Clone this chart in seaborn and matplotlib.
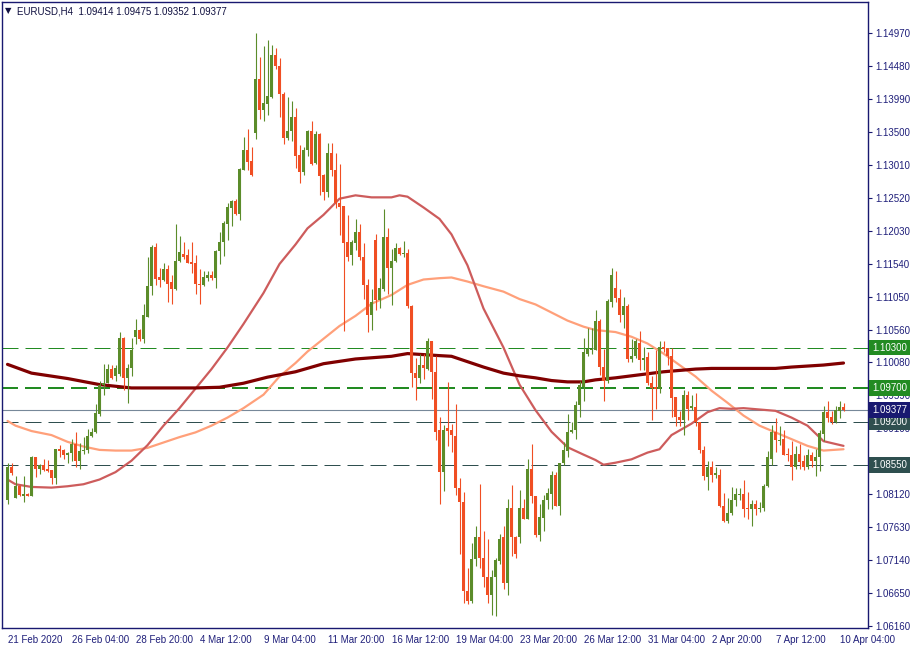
import matplotlib
matplotlib.use("Agg")
import matplotlib.pyplot as plt
import matplotlib.transforms as mtransforms
import numpy as np
import pandas as pd
import seaborn as sns

sns.set_style("white")
plt.rcParams["font.family"] = ["Liberation Sans", "DejaVu Sans"]

# EURUSD H4 candles (oldest first)
opens = [1.0804, 1.0853, 1.0807, 1.0824, 1.0810, 1.0813, 1.0810, 1.0867, 1.0849, 1.0856,
         1.0849, 1.0848, 1.0837, 1.0879, 1.0878, 1.0870, 1.0873, 1.0887, 1.0862, 1.0876,
         1.0878, 1.0898, 1.0904, 1.0932, 1.0974, 1.0978, 1.0998, 1.0987, 1.0991, 1.1044,
         1.0985, 1.0999, 1.1046, 1.1056, 1.1042, 1.1076, 1.1121, 1.1180, 1.1134, 1.1131,
         1.1146, 1.1127, 1.1117, 1.1159, 1.1169, 1.1167, 1.1157, 1.1156, 1.1125, 1.1123,
         1.1133, 1.1137, 1.1133, 1.1174, 1.1186, 1.1214, 1.1237, 1.1247, 1.1228, 1.1293,
         1.1324, 1.1307, 1.1348, 1.1428, 1.1383, 1.1392, 1.1402, 1.1464, 1.1448, 1.1407,
         1.1341, 1.1351, 1.1373, 1.1316, 1.1291, 1.1323, 1.1351, 1.1304, 1.1347, 1.1286,
         1.1261, 1.1319, 1.1294, 1.1245, 1.1240, 1.1186, 1.1167, 1.1185, 1.1202, 1.1165,
         1.1123, 1.1079, 1.1190, 1.1101, 1.1117, 1.1194, 1.1148, 1.1159, 1.1178, 1.1169,
         1.1171, 1.1091, 1.0992, 1.0985, 1.1004, 1.0998, 1.1039, 1.0994, 1.0908, 1.0845,
         1.0911, 1.0908, 1.0899, 1.0821, 1.0801, 1.0668, 1.0654, 1.0716, 1.0749, 1.0718,
         1.0690, 1.0663, 1.0690, 1.0713, 1.0748, 1.0681, 1.0791, 1.0748, 1.0748, 1.0791,
         1.0776, 1.0850, 1.0809, 1.0752, 1.0777, 1.0804, 1.0813, 1.0840, 1.0795, 1.0858,
         1.0877, 1.0904, 1.0907, 1.0944, 1.0972, 1.1021, 1.1027, 1.1027, 1.1070, 1.1001,
         1.0980, 1.1098, 1.1118, 1.1104, 1.1079, 1.1091, 1.1013, 1.1017, 1.1037, 1.1011,
         1.1016, 1.0977, 1.0971, 1.0968, 1.1031, 1.1029, 1.1017, 1.0956, 1.0927, 1.0922,
         1.0959, 1.0940, 1.0941, 1.0919, 1.0878, 1.0838, 1.0853, 1.0840, 1.0841, 1.0795,
         1.0773, 1.0784, 1.0804, 1.0811, 1.0813, 1.0791, 1.0790, 1.0798, 1.0790, 1.0791,
         1.0824, 1.0865, 1.0904, 1.0891, 1.0894, 1.0872, 1.0871, 1.0852, 1.0872, 1.0862,
         1.0852, 1.0871, 1.0862, 1.0867, 1.0902, 1.0935, 1.0927, 1.0919, 1.0936, 1.09414]
highs = [1.0859, 1.0858, 1.0839, 1.0826, 1.0839, 1.0814, 1.0869, 1.0868, 1.0857, 1.0865,
         1.0863, 1.0848, 1.0880, 1.0885, 1.0879, 1.0875, 1.0894, 1.0905, 1.0888, 1.0897,
         1.0909, 1.0911, 1.0946, 1.0981, 1.1006, 1.1006, 1.1004, 1.1004, 1.1053, 1.1045,
         1.1006, 1.1044, 1.1072, 1.1057, 1.1094, 1.1165, 1.1182, 1.1185, 1.1148, 1.1156,
         1.1152, 1.1137, 1.1214, 1.1195, 1.1186, 1.1176, 1.1187, 1.1167, 1.1146, 1.1143,
         1.1143, 1.1143, 1.1175, 1.1201, 1.1218, 1.1245, 1.1249, 1.1250, 1.1296, 1.1343,
         1.1355, 1.1328, 1.1497, 1.1462, 1.1477, 1.1487, 1.1479, 1.1475, 1.1460, 1.1409,
         1.1402, 1.1396, 1.1386, 1.1331, 1.1328, 1.1353, 1.1367, 1.1351, 1.1348, 1.1288,
         1.1334, 1.1333, 1.1319, 1.1302, 1.1240, 1.1227, 1.1189, 1.1221, 1.1214, 1.1185,
         1.1132, 1.1117, 1.1198, 1.1133, 1.1236, 1.1208, 1.1177, 1.1185, 1.1179, 1.1188,
         1.1176, 1.1093, 1.1014, 1.1020, 1.1020, 1.1044, 1.1040, 1.1018, 1.0927, 1.0915,
         1.0979, 1.0917, 1.0946, 1.0836, 1.0816, 1.0703, 1.0740, 1.0765, 1.0828, 1.0757,
         1.0746, 1.0699, 1.0718, 1.0753, 1.0765, 1.0805, 1.0826, 1.0750, 1.0819, 1.0805,
         1.0864, 1.0887, 1.0810, 1.0797, 1.0811, 1.0821, 1.0846, 1.0845, 1.0859, 1.0890,
         1.0932, 1.0920, 1.0950, 1.0981, 1.1044, 1.1059, 1.1059, 1.1086, 1.1073, 1.1028,
         1.1102, 1.1148, 1.1144, 1.1117, 1.1105, 1.1095, 1.1043, 1.1043, 1.1054, 1.1031,
         1.1024, 1.0988, 1.1027, 1.1039, 1.1039, 1.1030, 1.1030, 1.0957, 1.0936, 1.0967,
         1.0966, 1.0959, 1.0962, 1.0920, 1.0884, 1.0862, 1.0861, 1.0853, 1.0849, 1.0814,
         1.0806, 1.0823, 1.0821, 1.0821, 1.0833, 1.0816, 1.0804, 1.0803, 1.0800, 1.0827,
         1.0877, 1.0915, 1.0925, 1.0914, 1.0908, 1.0881, 1.0891, 1.0884, 1.0887, 1.0870,
         1.0879, 1.0875, 1.0880, 1.0908, 1.0943, 1.0951, 1.0936, 1.0943, 1.0951, 1.09475]
lows = [1.0797, 1.0841, 1.0807, 1.0810, 1.0801, 1.0809, 1.0809, 1.0838, 1.0842, 1.0846,
        1.0845, 1.0827, 1.0828, 1.0868, 1.0864, 1.0859, 1.0862, 1.0852, 1.0850, 1.0872,
        1.0874, 1.0897, 1.0903, 1.0929, 1.0960, 1.0977, 1.0984, 1.0981, 1.0988, 1.0967,
        1.0948, 1.0988, 1.1035, 1.1040, 1.1037, 1.1075, 1.1108, 1.1123, 1.1120, 1.1129,
        1.1098, 1.1095, 1.1115, 1.1157, 1.1161, 1.1155, 1.1140, 1.1109, 1.1094, 1.1122,
        1.1129, 1.1131, 1.1118, 1.1154, 1.1166, 1.1190, 1.1211, 1.1227, 1.1219, 1.1293,
        1.1293, 1.1285, 1.1340, 1.1370, 1.1366, 1.1376, 1.1400, 1.1444, 1.1373, 1.1332,
        1.1338, 1.1337, 1.1296, 1.1274, 1.1286, 1.1315, 1.1301, 1.1303, 1.1256, 1.1249,
        1.1254, 1.1285, 1.1237, 1.1197, 1.1054, 1.1158, 1.1152, 1.1175, 1.1160, 1.1102,
        1.1053, 1.1056, 1.1085, 1.1088, 1.1114, 1.1110, 1.1093, 1.1157, 1.1168, 1.1164,
        1.1089, 1.0971, 1.0952, 1.0978, 1.0984, 1.0996, 1.0953, 1.0892, 1.0798, 1.0817,
        1.0884, 1.0875, 1.0811, 1.0723, 1.0651, 1.0649, 1.0650, 1.0706, 1.0703, 1.0674,
        1.0650, 1.0633, 1.0632, 1.0709, 1.0671, 1.0663, 1.0720, 1.0717, 1.0740, 1.0775,
        1.0775, 1.0799, 1.0749, 1.0742, 1.0758, 1.0790, 1.0790, 1.0794, 1.0782, 1.0856,
        1.0868, 1.0903, 1.0894, 1.0927, 1.0950, 1.1017, 1.1021, 1.1027, 1.0989, 1.0951,
        1.0978, 1.1090, 1.1098, 1.1068, 1.1059, 1.1009, 1.1009, 1.1014, 1.0997, 1.0997,
        1.0975, 1.0923, 1.0939, 1.0963, 1.1024, 1.1004, 1.0927, 1.0913, 1.0914, 1.0900,
        1.0922, 1.0937, 1.0914, 1.0874, 1.0834, 1.0819, 1.0831, 1.0836, 1.0793, 1.0771,
        1.0769, 1.0782, 1.0795, 1.0803, 1.0778, 1.0775, 1.0765, 1.0781, 1.0786, 1.0787,
        1.0823, 1.0855, 1.0875, 1.0885, 1.0870, 1.0862, 1.0833, 1.0850, 1.0850, 1.0848,
        1.0849, 1.0852, 1.0839, 1.0846, 1.0891, 1.0919, 1.0917, 1.0918, 1.0925, 1.09352]
closes = [1.0853, 1.0843, 1.0824, 1.0811, 1.0813, 1.0810, 1.0868, 1.0849, 1.0856, 1.0848,
          1.0846, 1.0837, 1.0879, 1.0877, 1.0870, 1.0874, 1.0887, 1.0862, 1.0877, 1.0878,
          1.0898, 1.0905, 1.0933, 1.0975, 1.0978, 1.0998, 1.0985, 1.0999, 1.1044, 1.0985,
          1.1000, 1.1026, 1.1056, 1.1042, 1.1078, 1.1121, 1.1180, 1.1132, 1.1131, 1.1146,
          1.1125, 1.1117, 1.1159, 1.1172, 1.1165, 1.1156, 1.1154, 1.1124, 1.1123, 1.1134,
          1.1137, 1.1133, 1.1174, 1.1187, 1.1215, 1.1238, 1.1247, 1.1228, 1.1295, 1.1324,
          1.1305, 1.1286, 1.1428, 1.1383, 1.1393, 1.1403, 1.1464, 1.1448, 1.1406, 1.1341,
          1.1352, 1.1373, 1.1315, 1.1290, 1.1323, 1.1352, 1.1303, 1.1347, 1.1285, 1.1261,
          1.1319, 1.1293, 1.1245, 1.1238, 1.1185, 1.1165, 1.1187, 1.1202, 1.1165, 1.1123,
          1.1079, 1.1098, 1.1101, 1.1118, 1.1194, 1.1148, 1.1159, 1.1178, 1.1169, 1.1171,
          1.1091, 1.0992, 1.0985, 1.1004, 1.0999, 1.1039, 1.0994, 1.0905, 1.0845, 1.0908,
          1.0906, 1.0900, 1.0821, 1.0801, 1.0668, 1.0654, 1.0716, 1.0749, 1.0717, 1.0690,
          1.0663, 1.0690, 1.0714, 1.0746, 1.0681, 1.0791, 1.0748, 1.0724, 1.0791, 1.0776,
          1.0850, 1.0809, 1.0752, 1.0778, 1.0804, 1.0814, 1.0840, 1.0795, 1.0858, 1.0878,
          1.0905, 1.0908, 1.0945, 1.0974, 1.1023, 1.1028, 1.1028, 1.1070, 1.1001, 1.0980,
          1.1099, 1.1137, 1.1103, 1.1079, 1.1091, 1.1013, 1.1018, 1.1040, 1.1011, 1.1015,
          1.0977, 1.0970, 1.0968, 1.1031, 1.1028, 1.1017, 1.0955, 1.0927, 1.0922, 1.0959,
          1.0939, 1.0943, 1.0919, 1.0878, 1.0839, 1.0853, 1.0840, 1.0843, 1.0795, 1.0773,
          1.0784, 1.0804, 1.0813, 1.0813, 1.0790, 1.0790, 1.0798, 1.0790, 1.0791, 1.0824,
          1.0867, 1.0904, 1.0893, 1.0892, 1.0871, 1.0871, 1.0852, 1.0872, 1.0860, 1.0852,
          1.0871, 1.0862, 1.0868, 1.0903, 1.0935, 1.0926, 1.0919, 1.0937, 1.0941, 1.09377]

# moving averages, read at a few bars each
ma_slow_bars = [0, 6, 15, 23, 31, 36, 47, 53, 59, 65, 72, 79, 87, 96, 100, 108, 111, 115, 119, 124,
                128, 132, 136, 140, 144, 147, 152, 156, 160, 164, 168, 172, 176, 181, 192, 196, 204, 209]
ma_slow = [1.1005, 1.0992, 1.0984, 1.0975, 1.0970, 1.0970, 1.0970, 1.0971, 1.0977, 1.0986,
           1.0994, 1.1006, 1.1013, 1.1017, 1.1021, 1.1018, 1.1017, 1.1009, 1.1001, 1.0992,
           1.0988, 1.0985, 1.0981, 1.0979, 1.0979, 1.0982, 1.0985, 1.0988, 1.0991, 1.0994,
           1.0996, 1.0998, 1.0999, 1.0999, 1.0999, 1.1001, 1.1004, 1.1007]
ma_fast_bars = [0, 2, 6, 11, 15, 19, 23, 27, 31, 35, 39, 43, 47, 51, 55, 59, 64, 68, 72, 75,
                79, 83, 87, 91, 96, 98, 100, 104, 108, 111, 115, 119, 124, 128, 132, 136, 140, 144,
                147, 149, 152, 156, 160, 163, 166, 171, 175, 178, 181, 184, 192, 196, 200, 204, 209]
ma_fast = [1.0834, 1.0827, 1.0823, 1.0822, 1.0824, 1.0827, 1.0834, 1.0845, 1.0862, 1.0885,
           1.0914, 1.0940, 1.0969, 1.0998, 1.1030, 1.1065, 1.1111, 1.1154, 1.1183, 1.1207,
           1.1227, 1.1251, 1.1256, 1.1253, 1.1253, 1.1256, 1.1254, 1.1238, 1.1221, 1.1198,
           1.1152, 1.1088, 1.1030, 1.0975, 1.0937, 1.0905, 1.0882, 1.0871, 1.0863, 1.0856,
           1.0859, 1.0864, 1.0874, 1.0879, 1.0900, 1.0917, 1.0934, 1.0940, 1.0939, 1.0940,
           1.0936, 1.0926, 1.0914, 1.0891, 1.0884]
ma_mid_bars = [0, 2, 6, 11, 15, 19, 23, 27, 31, 35, 38, 43, 47, 51, 55, 59, 64, 68, 72, 75,
               79, 83, 87, 91, 96, 100, 104, 108, 111, 115, 119, 124, 128, 132, 136, 140, 144,
               147, 152, 156, 160, 164, 168, 172, 176, 180, 184, 188, 192, 196, 200, 204, 209]
ma_mid = [1.0921, 1.0914, 1.0906, 1.0900, 1.0890, 1.0883, 1.0878, 1.0877, 1.0877, 1.0881,
          1.0887, 1.0897, 1.0904, 1.0914, 1.0926, 1.0940, 1.0960, 1.0987, 1.1007, 1.1024,
          1.1043, 1.1062, 1.1077, 1.1095, 1.1108, 1.1123, 1.1131, 1.1133, 1.1134, 1.1128,
          1.1121, 1.1113, 1.1102, 1.1094, 1.1082, 1.1070, 1.1061, 1.1056, 1.1053, 1.1046,
          1.1036, 1.1021, 1.1004, 1.0987, 1.0966, 1.0948, 1.0929, 1.0914, 1.0904, 1.0894,
          1.0884, 1.0877, 1.0879]

# horizontal levels drawn on the chart
levels = [1.10300, 1.09700, 1.09200, 1.08550]
level_colors = ["#228B22", "#228B22", "#2F4F4F", "#2F4F4F"]
level_widths = [0.72, 1.44, 0.72, 0.72]
bid = 1.09377

price_ticks = [1.14970, 1.14480, 1.13990, 1.13500, 1.13010, 1.12520, 1.12030, 1.11540, 1.11050,
               1.10560, 1.10080, 1.09590, 1.09100, 1.08610, 1.08120, 1.07630, 1.07140, 1.06650, 1.06160]
date_bars = [0, 16, 32, 48, 64, 80, 96, 112, 128, 144, 160, 176, 192, 208]
date_labels = ["21 Feb 2020", "26 Feb 04:00", "28 Feb 20:00", "4 Mar 12:00", "9 Mar 04:00",
               "11 Mar 20:00", "16 Mar 12:00", "19 Mar 04:00", "23 Mar 20:00", "26 Mar 12:00",
               "31 Mar 04:00", "2 Apr 20:00", "7 Apr 12:00", "10 Apr 04:00"]

BULL = "#5B8C2A"
BEAR = "#F04E23"
NAVY = "#191970"

df = pd.DataFrame({"open": opens, "high": highs, "low": lows, "close": closes})
df["bar"] = np.arange(len(df))
up = df[df["close"] >= df["open"]]
dn = df[df["close"] < df["open"]]

fig = plt.figure(figsize=(9.15, 6.5), dpi=100)
ax = fig.add_axes([2 / 915, 22.5 / 650, 866 / 915, 626 / 650])

# levels + bid line (behind the candles)
for lv, c, w in zip(levels, level_colors, level_widths):
    ax.axhline(lv, color=c, lw=w, ls=(0, (16 * 0.72 / w, 7 * 0.72 / w)), zorder=1)
ax.axhline(bid, color="#778899", lw=0.8, zorder=1)

# moving averages
sns.lineplot(x=ma_mid_bars, y=ma_mid, color="#FFA07A", lw=1.6, ax=ax, zorder=2)
sns.lineplot(x=ma_fast_bars, y=ma_fast, color="#CD5C5C", lw=1.6, ax=ax, zorder=2)
sns.lineplot(x=ma_slow_bars, y=ma_slow, color="#800000", lw=2.3, ax=ax, zorder=2)

# candles
ax.vlines(up["bar"], up["low"], up["high"], color=BULL, lw=0.8, zorder=3)
ax.vlines(dn["bar"], dn["low"], dn["high"], color=BEAR, lw=0.8, zorder=3)
ax.bar(up["bar"], np.maximum(up["close"] - up["open"], 0.00007), bottom=up["open"],
       width=0.75, color=BULL, linewidth=0, zorder=4)
ax.bar(dn["bar"], np.maximum(dn["open"] - dn["close"], 0.00007), bottom=dn["close"],
       width=0.75, color=BEAR, linewidth=0, zorder=4)

ax.set_xlim(-1.375, 215.125)
ax.set_ylim(1.06143, 1.15438)

# axes look like the terminal window
for s in ax.spines.values():
    s.set_color(NAVY)
    s.set_linewidth(1.0)
ax.yaxis.tick_right()
ax.set_yticks(price_ticks)
ax.set_yticklabels(["%.5f" % p for p in price_ticks])
ax.set_xticks(date_bars)
ax.set_xticklabels(date_labels, ha="left")
ax.tick_params(axis="y", direction="out", length=3, width=0.8, pad=2.5,
               colors=NAVY, labelsize=7, labelcolor="#1f1f7a")
ax.tick_params(axis="x", direction="out", length=3.5, width=0.8, pad=2,
               colors=NAVY, labelsize=7, labelcolor="#1f1f7a")
ax.set_xlabel("")
ax.set_ylabel("")

# price boxes on the right scale
trans = mtransforms.blended_transform_factory(ax.transAxes, ax.transData)
box_prices = levels + [bid]
box_colors = level_colors + [NAVY]
for p, c in zip(box_prices, box_colors):
    ax.text(1.0045, p, "%.5f" % p, transform=trans, ha="left", va="center", fontsize=7,
            color="white", clip_on=False, zorder=10,
            bbox=dict(boxstyle="square,pad=0.3", fc=c, ec="none"))

# header
fig.text(5 / 915, 1 - 11 / 650, "\u25bc", fontsize=6, color="#101040", va="center",
         family=["DejaVu Sans"])
fig.text(17 / 915, 1 - 11 / 650, "EURUSD,H4  1.09414 1.09475 1.09352 1.09377", fontsize=7,
         color="#101040", va="center")

fig.savefig("out.png", dpi=100)
